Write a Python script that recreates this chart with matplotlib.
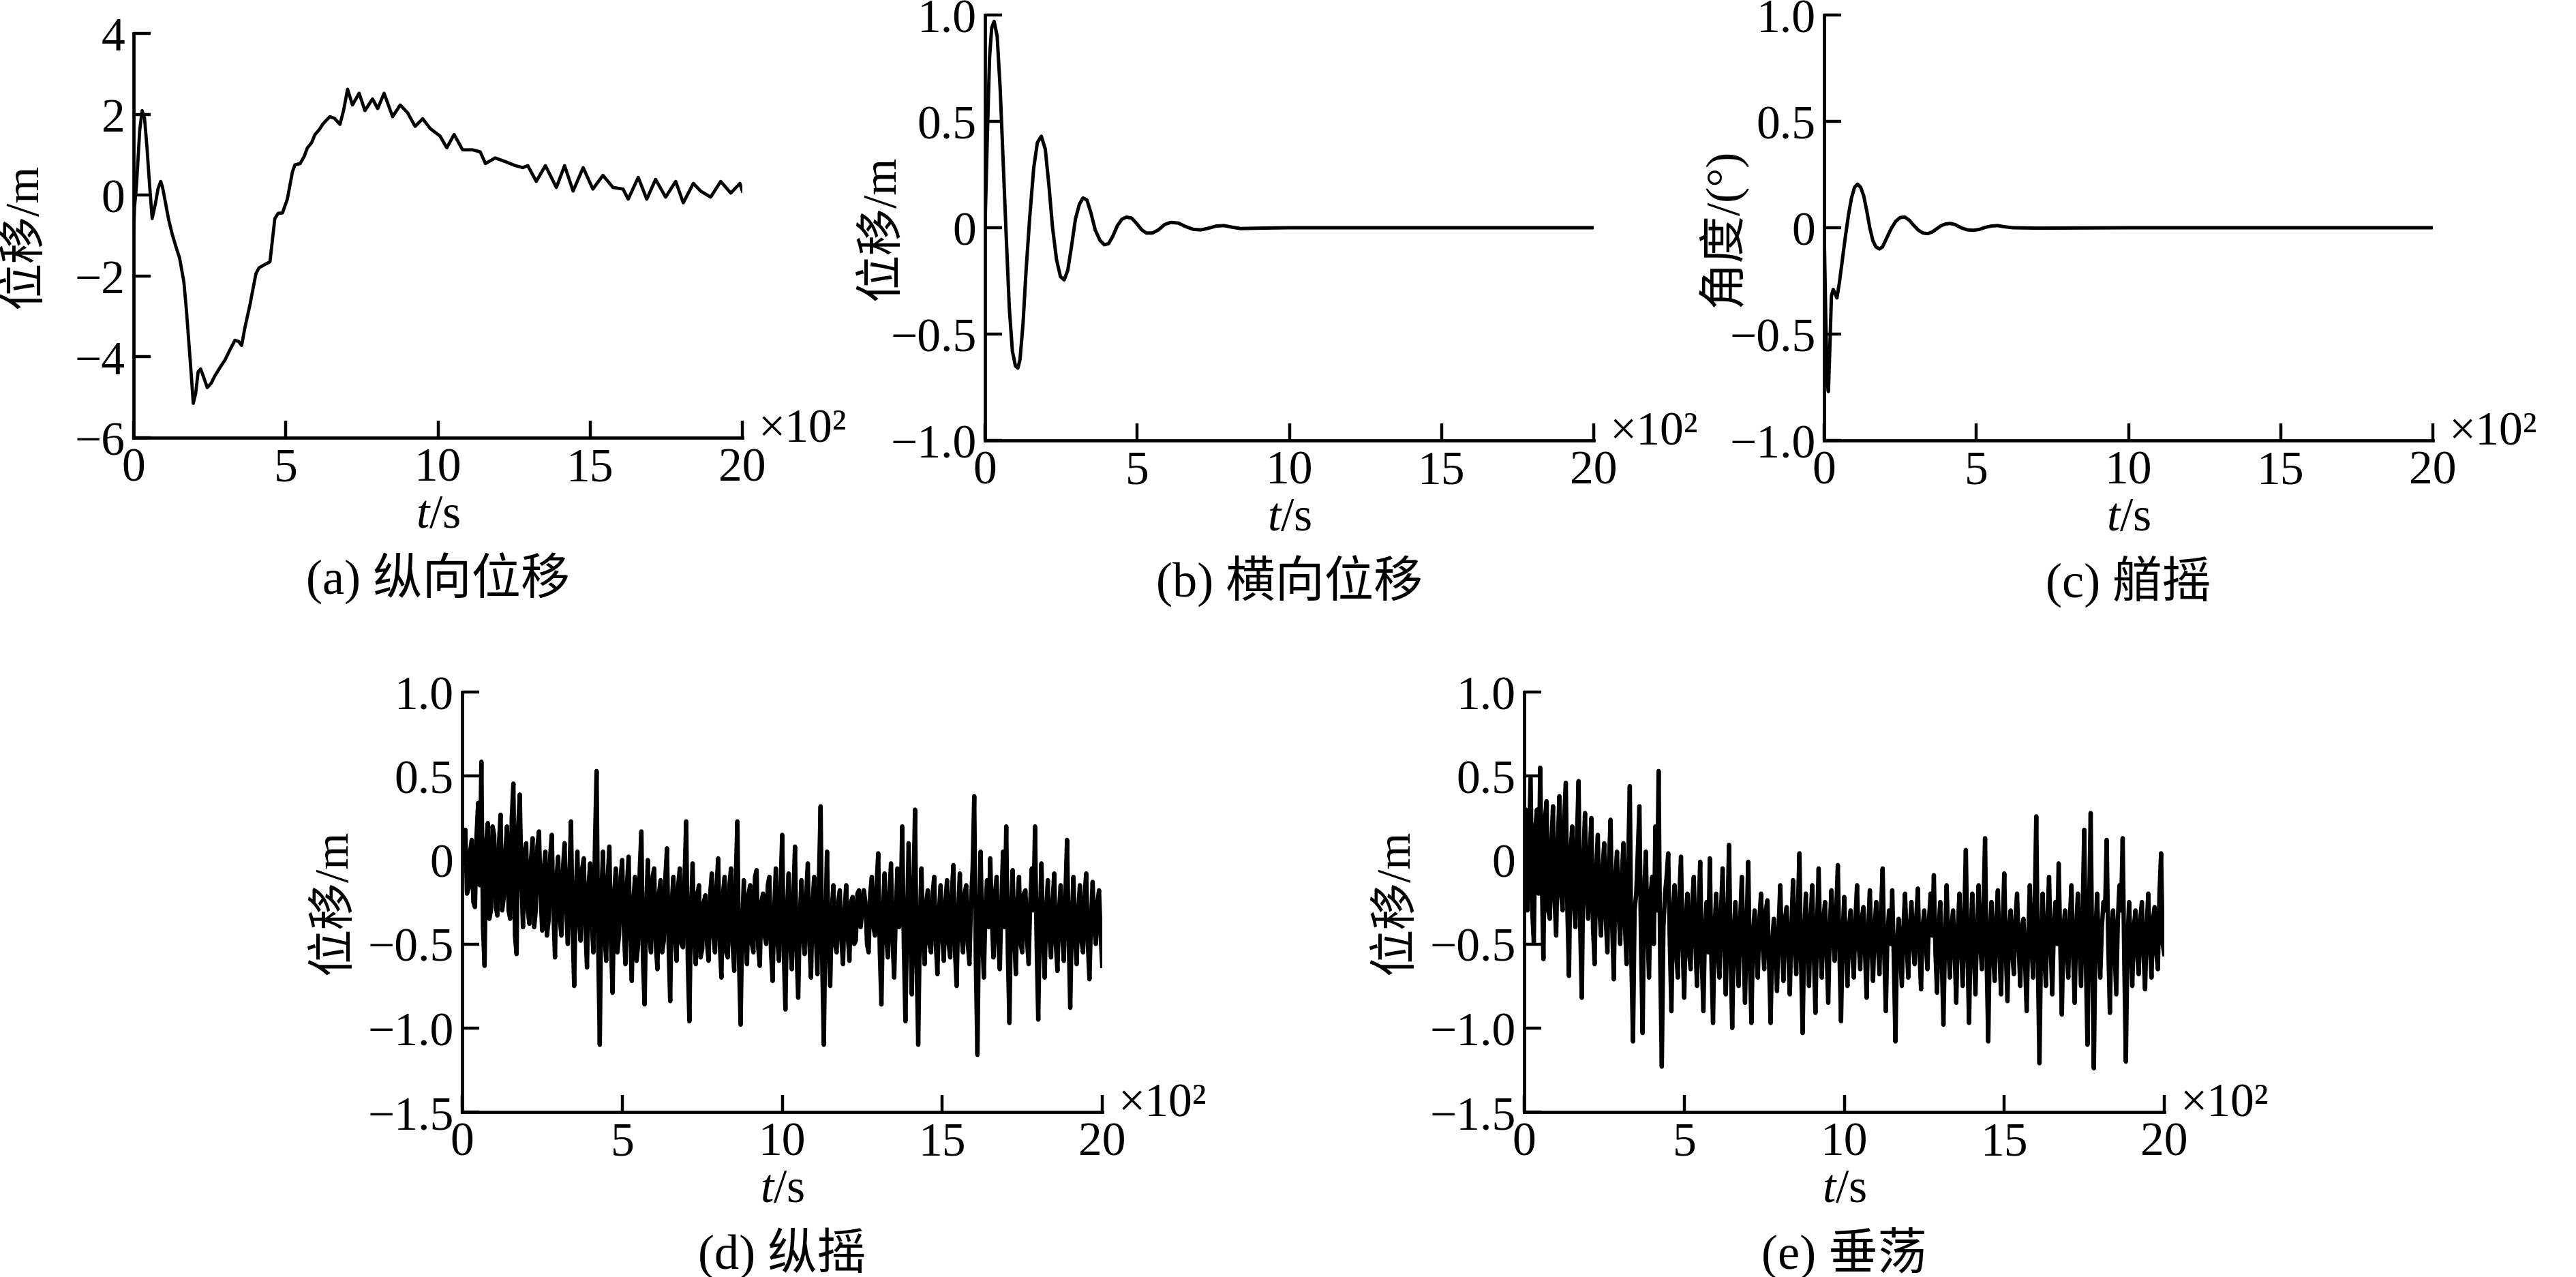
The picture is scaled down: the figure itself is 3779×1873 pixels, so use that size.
import numpy as np
import matplotlib.pyplot as plt

plt.rcParams['font.family'] = ['Liberation Serif', 'Noto Sans CJK SC']
plt.rcParams['mathtext.fontset'] = 'custom'
plt.rcParams['mathtext.rm'] = 'Liberation Serif'
plt.rcParams['mathtext.it'] = 'Liberation Serif:italic'
plt.rcParams['font.size'] = 50

# (a) longitudinal displacement, t in 1e2 s
a_t = [0.00, 0.03, 0.10, 0.20, 0.28, 0.36, 0.44, 0.53, 0.61, 0.72,
       0.80, 0.89, 0.95, 1.05, 1.15, 1.27, 1.40, 1.51, 1.65, 1.73,
       1.81, 1.90, 1.96, 2.04, 2.12, 2.20, 2.30, 2.42, 2.55, 2.67,
       2.85, 3.00, 3.15, 3.33, 3.45, 3.55, 3.65, 3.82, 4.02, 4.12,
       4.23, 4.35, 4.48, 4.64, 4.75, 4.89, 5.05, 5.22, 5.30, 5.47,
       5.60, 5.71, 5.85, 5.96, 6.10, 6.21, 6.33, 6.45, 6.60, 6.78,
       6.90, 7.03, 7.19, 7.41, 7.60, 7.85, 8.02, 8.23, 8.51, 8.76,
       9.00, 9.25, 9.50, 9.74, 10.07, 10.29, 10.53, 10.81, 11.14, 11.39,
       11.56, 11.88, 12.21, 12.54, 12.79, 12.95, 13.23, 13.53, 13.89, 14.16,
       14.44, 14.77, 15.09, 15.42, 15.75, 16.08, 16.25, 16.58, 16.86, 17.15,
       17.48, 17.81, 18.06, 18.39, 18.63, 18.96, 19.29, 19.62, 19.92, 20.00]
a_y = [-0.97, -0.30, 0.30, 1.60, 2.09, 1.90, 1.17, 0.20, -0.58, -0.20,
       0.15, 0.34, 0.20, -0.20, -0.60, -0.97, -1.30, -1.55, -2.14, -2.80,
       -3.59, -4.50, -5.15, -4.90, -4.37, -4.30, -4.50, -4.76, -4.65, -4.47,
       -4.25, -4.08, -3.85, -3.59, -3.62, -3.72, -3.30, -2.72, -1.94, -1.80,
       -1.75, -1.70, -1.65, -0.58, -0.45, -0.44, -0.10, 0.58, 0.75, 0.78,
       0.95, 1.17, 1.30, 1.50, 1.62, 1.75, 1.85, 1.94, 1.90, 1.75,
       2.10, 2.62, 2.23, 2.52, 2.09, 2.38, 2.14, 2.52, 1.94, 2.23,
       2.04, 1.70, 1.89, 1.65, 1.46, 1.17, 1.50, 1.12, 1.12, 1.07,
       0.78, 0.92, 0.83, 0.73, 0.68, 0.73, 0.34, 0.73, 0.19, 0.73,
       0.10, 0.68, 0.15, 0.49, 0.19, 0.15, -0.10, 0.44, -0.10, 0.39,
       -0.05, 0.34, -0.19, 0.29, 0.10, -0.05, 0.34, 0.05, 0.29, 0.10]

# (b) lateral displacement
b_t = [0.00, 0.08, 0.15, 0.22, 0.30, 0.40, 0.50, 0.60, 0.70, 0.80,
       0.90, 1.00, 1.08, 1.15, 1.25, 1.35, 1.47, 1.60, 1.72, 1.85,
       1.98, 2.10, 2.22, 2.35, 2.48, 2.60, 2.72, 2.85, 2.97, 3.10,
       3.22, 3.35, 3.48, 3.62, 3.78, 3.92, 4.06, 4.20, 4.35, 4.50,
       4.65, 4.82, 4.98, 5.15, 5.30, 5.50, 5.70, 5.90, 6.10, 6.35,
       6.60, 6.85, 7.10, 7.35, 7.60, 7.85, 8.10, 8.40, 9.00, 10.0,
       15.0, 20.0]
b_y = [0.00, 0.45, 0.80, 0.94, 0.97, 0.90, 0.65, 0.30, -0.05, -0.38,
       -0.58, -0.65, -0.66, -0.62, -0.45, -0.20, 0.05, 0.28, 0.40, 0.43,
       0.37, 0.20, 0.00, -0.15, -0.23, -0.245, -0.20, -0.08, 0.04, 0.11,
       0.14, 0.13, 0.07, -0.01, -0.06, -0.08, -0.075, -0.04, 0.01, 0.04,
       0.05, 0.045, 0.02, -0.01, -0.025, -0.025, -0.01, 0.015, 0.025, 0.022,
       0.005, -0.008, -0.01, -0.002, 0.008, 0.01, 0.003, -0.004, -0.002, 0.0,
       0.0, 0.0]

# (c) yaw angle
c_t = [0.00, 0.05, 0.10, 0.14, 0.18, 0.24, 0.30, 0.36, 0.42, 0.50,
       0.60, 0.70, 0.80, 0.90, 1.00, 1.10, 1.20, 1.30, 1.40, 1.50,
       1.60, 1.70, 1.82, 1.92, 2.05, 2.20, 2.35, 2.50, 2.65, 2.80,
       2.95, 3.10, 3.25, 3.40, 3.55, 3.70, 3.85, 4.00, 4.15, 4.30,
       4.50, 4.70, 4.90, 5.10, 5.30, 5.50, 5.70, 5.90, 6.20, 7.00,
       10.0, 20.0]
c_y = [0.00, -0.40, -0.72, -0.77, -0.60, -0.32, -0.29, -0.31, -0.33, -0.26,
       -0.15, -0.04, 0.06, 0.14, 0.19, 0.205, 0.19, 0.15, 0.08, 0.00,
       -0.06, -0.09, -0.10, -0.09, -0.05, -0.005, 0.03, 0.048, 0.05, 0.035,
       0.01, -0.012, -0.025, -0.028, -0.02, -0.005, 0.01, 0.018, 0.02, 0.015,
       0.00, -0.01, -0.012, -0.008, 0.002, 0.008, 0.01, 0.005, 0.0, -0.002,
       0.0, 0.0]

# (d) pitch and (e) heave, one row per 1e2 s, sampled every 0.05
d_y = [-0.02, 0.10, 0.18, -0.20, -0.17, 0.05, 0.12, -0.25, -0.28, 0.15, 0.34, -0.15, 0.585, -0.40, -0.63, 0.10, 0.22, -0.35, -0.30, 0.20,
       0.15, -0.28, -0.33, 0.10, 0.27, -0.30, -0.22, 0.05, 0.20, -0.30, -0.35, 0.25, 0.455, -0.45, -0.56, 0.20, 0.39, -0.10, -0.40, 0.05,
       0.10, -0.30, -0.38, 0.00, 0.13, -0.40, -0.30, 0.08, 0.17, -0.20, -0.42, -0.05, 0.05, -0.45, -0.36, 0.02, 0.15, -0.30, -0.58, -0.10,
       0.02, -0.35, -0.45, -0.05, 0.10, -0.30, -0.50, -0.10, 0.23, -0.40, -0.75, -0.20, 0.05, -0.35, -0.48, -0.05, 0.01, -0.40, -0.64, -0.15,
       -0.02, -0.38, -0.55, 0.10, 0.53, -0.50, -1.10, -0.20, 0.05, -0.45, -0.60, -0.10, 0.08, -0.50, -0.79, -0.20, -0.05, -0.55, -0.45, -0.10,
       0.00, -0.40, -0.62, -0.15, 0.02, -0.45, -0.72, -0.25, -0.10, -0.60, -0.50, -0.05, 0.17, -0.60, -0.86, -0.30, 0.00, -0.45, -0.55, -0.10,
       -0.05, -0.50, -0.65, -0.20, -0.12, -0.55, -0.48, -0.10, 0.07, -0.50, -0.84, -0.25, -0.10, -0.45, -0.60, -0.15, -0.05, -0.50, -0.52, -0.10,
       0.23, -0.60, -0.96, -0.30, -0.02, -0.45, -0.62, -0.20, -0.15, -0.58, -0.53, -0.25, -0.21, -0.50, -0.60, -0.20, -0.08, -0.45, -0.55, -0.15,
       0.01, -0.50, -0.70, -0.20, -0.10, -0.55, -0.58, -0.15, -0.05, -0.50, -0.66, -0.10, 0.23, -0.60, -0.98, -0.40, -0.12, -0.48, -0.62, -0.20,
       -0.15, -0.50, -0.55, -0.10, -0.06, -0.52, -0.63, -0.25, -0.20, -0.45, -0.50, -0.15, -0.10, -0.55, -0.72, -0.30, -0.05, -0.48, -0.60, -0.15,
       0.15, -0.55, -0.89, -0.30, -0.08, -0.50, -0.65, -0.20, 0.08, -0.55, -0.82, -0.35, -0.12, -0.45, -0.56, -0.20, -0.02, -0.50, -0.70, -0.25,
       -0.10, -0.45, -0.68, -0.10, 0.32, -0.60, -1.10, -0.40, 0.05, -0.50, -0.75, -0.30, -0.15, -0.50, -0.55, -0.25, -0.18, -0.48, -0.62, -0.30,
       -0.15, -0.45, -0.60, -0.25, -0.22, -0.50, -0.48, -0.20, -0.18, -0.40, -0.30, -0.18, -0.25, -0.50, -0.55, -0.20, -0.10, -0.40, -0.45, -0.15,
       0.04, -0.55, -0.86, -0.30, -0.08, -0.45, -0.58, -0.20, -0.02, -0.50, -0.70, -0.30, -0.05, -0.40, -0.30, 0.20, -0.50, -0.96, -0.40, 0.10,
       -0.35, -0.80, -0.20, 0.30, -0.60, -1.10, -0.40, -0.05, -0.45, -0.62, -0.25, -0.18, -0.50, -0.55, -0.20, -0.10, -0.50, -0.68, -0.30, -0.15,
       -0.45, -0.60, -0.25, -0.12, -0.50, -0.58, -0.20, -0.03, -0.55, -0.75, -0.30, -0.08, -0.45, -0.55, -0.20, -0.15, -0.50, -0.62, -0.25, -0.05,
       0.38, -0.60, -1.16, -0.35, 0.05, -0.45, -0.70, -0.30, -0.12, -0.40, 0.01, -0.35, -0.58, -0.20, -0.10, -0.50, -0.65, -0.25, 0.05, -0.40,
       0.20, -0.55, -0.97, -0.30, -0.06, -0.45, -0.68, -0.25, -0.10, -0.50, -0.55, -0.20, -0.18, -0.48, -0.62, -0.25, -0.05, -0.30, 0.20, -0.50,
       -0.95, -0.35, -0.02, -0.45, -0.70, -0.30, -0.12, -0.45, -0.58, -0.25, -0.08, -0.50, -0.66, -0.30, -0.15, -0.45, -0.60, -0.20, 0.12, -0.45,
       -0.88, -0.35, -0.10, -0.45, -0.62, -0.30, -0.15, -0.48, -0.55, -0.20, -0.08, -0.50, -0.71, -0.35, -0.13, -0.40, -0.50, -0.25, -0.18, -0.45,
       -0.63]
e_y = [0.00, 0.30, -0.30, 0.10, 0.49, -0.30, -0.49, 0.20, 0.30, -0.20, 0.55, -0.10, -0.59, 0.25, 0.35, -0.30, -0.35, 0.10, 0.32, -0.25,
       -0.45, 0.10, 0.38, -0.20, -0.30, 0.25, 0.46, -0.30, -0.69, 0.05, 0.20, -0.25, -0.40, 0.15, 0.47, -0.40, -0.82, 0.00, 0.28, -0.20,
       -0.35, 0.05, 0.25, -0.40, -0.62, -0.05, 0.15, -0.30, -0.45, -0.05, 0.10, -0.35, -0.55, 0.00, 0.24, -0.40, -0.71, -0.10, 0.05, -0.30,
       -0.50, -0.10, 0.10, -0.40, -0.62, 0.00, 0.44, -0.60, -1.08, -0.30, -0.20, 0.05, 0.32, -0.50, -1.03, -0.20, 0.05, -0.40, -0.70, -0.20,
       -0.10, -0.50, 0.20, -0.30, 0.53, -0.60, -1.23, -0.40, -0.20, -0.10, 0.04, -0.50, -0.90, -0.30, -0.15, -0.55, -0.70, -0.20, 0.02, -0.50,
       -0.82, -0.35, -0.20, -0.55, -0.65, -0.25, -0.10, -0.50, -0.75, -0.30, -0.01, -0.60, -0.90, -0.40, -0.25, -0.55, 0.01, -0.60, -0.97, -0.40,
       -0.20, -0.55, -0.70, -0.30, -0.05, -0.50, -0.80, -0.35, 0.09, -0.55, -1.00, -0.45, -0.25, -0.55, -0.75, -0.35, -0.10, -0.50, -0.85, -0.40,
       -0.01, -0.60, -0.97, -0.45, -0.30, -0.55, -0.70, -0.35, -0.20, -0.50, -0.65, -0.30, -0.24, -0.60, -0.97, -0.50, -0.35, -0.55, -0.78, -0.40,
       -0.15, -0.50, -0.72, -0.35, -0.28, -0.55, -0.80, -0.40, -0.12, -0.50, -0.68, -0.30, 0.04, -0.60, -1.03, -0.45, -0.20, -0.50, -0.75, -0.35,
       -0.15, -0.55, -0.91, -0.40, -0.05, -0.50, -0.70, -0.35, -0.25, -0.55, -0.85, -0.40, -0.18, -0.45, -0.60, -0.30, -0.03, -0.55, -0.96, -0.45,
       -0.22, -0.50, -0.75, -0.40, -0.30, -0.55, -0.70, -0.35, -0.15, -0.50, -0.65, -0.35, -0.28, -0.55, -0.82, -0.40, -0.18, -0.50, -0.72, -0.40,
       -0.25, -0.50, -0.68, -0.30, -0.05, -0.55, -0.90, -0.45, -0.30, -0.50, -0.18, -0.60, -1.08, -0.50, -0.35, -0.55, -0.75, -0.40, -0.20, -0.50,
       -0.70, -0.40, -0.25, -0.50, -0.62, -0.35, -0.17, -0.55, -0.77, -0.40, -0.30, -0.50, -0.65, -0.35, -0.20, -0.45, -0.09, -0.55, -0.79, -0.40,
       -0.25, -0.60, -0.98, -0.45, -0.15, -0.50, -0.70, -0.40, -0.30, -0.55, -0.85, -0.40, -0.20, -0.50, -0.75, -0.35, 0.06, -0.55, -0.97, -0.45,
       -0.20, -0.55, -0.80, -0.40, -0.15, -0.50, -0.65, -0.30, 0.13, -0.60, -1.08, -0.45, -0.25, -0.55, -0.72, -0.35, -0.18, -0.55, -0.80, -0.40,
       -0.08, -0.55, -0.84, -0.40, -0.30, -0.55, -0.68, -0.35, -0.20, -0.50, -0.75, -0.40, -0.35, -0.60, -0.90, -0.45, -0.15, -0.50, -0.70, -0.30,
       0.26, -0.60, -1.21, -0.50, -0.20, -0.55, -0.75, -0.35, -0.10, -0.50, -0.80, -0.40, -0.25, -0.50, -0.02, -0.50, -0.92, -0.40, -0.30, -0.55,
       -0.70, -0.35, -0.15, -0.55, -0.85, -0.40, -0.20, -0.50, -0.75, -0.30, 0.18, -0.60, -1.10, -0.30, 0.28, -0.60, -1.24, -0.45, -0.20, -0.50,
       -0.70, -0.40, -0.25, -0.30, 0.12, -0.50, -0.91, -0.40, -0.30, -0.55, -0.80, -0.35, -0.15, -0.30, 0.13, -0.60, -1.20, -0.50, -0.25, -0.50,
       -0.75, -0.40, -0.30, -0.55, -0.68, -0.35, -0.25, -0.55, -0.77, -0.40, -0.20, -0.50, -0.70, -0.35, -0.28, -0.55, -0.65, -0.20, 0.04, -0.50,
       -0.56]
d_t = np.linspace(0, 20, len(d_y))
e_t = np.linspace(0, 20, len(e_y))

x_ticks = [0, 5, 10, 15, 20]
a_yticks = [-6, -4, -2, 0, 2, 4]
a_ylabels = ['−6', '−4', '−2', '0', '2', '4']
bc_yticks = [-1.0, -0.5, 0, 0.5, 1.0]
bc_ylabels = ['−1.0', '−0.5', '0', '0.5', '1.0']
de_yticks = [-1.5, -1.0, -0.5, 0, 0.5, 1.0]
de_ylabels = ['−1.5', '−1.0', '−0.5', '0', '0.5', '1.0']

W, H = 3779, 1874
fig = plt.figure(figsize=(W / 100, H / 100), dpi=100)


def make_ax(left, top, right, bottom):
    return fig.add_axes([left / W, 1 - bottom / H, (right - left) / W, (bottom - top) / H])


def style(ax, ylim, yticks, ylabels, ylabel, caption, ylab_x):
    ax.set_xlim(0, 20)
    ax.set_ylim(*ylim)
    ax.set_xticks(x_ticks)
    ax.set_xticklabels([str(v) for v in x_ticks])
    ax.set_yticks(yticks)
    ax.set_yticklabels(ylabels)
    ax.spines['top'].set_visible(False)
    ax.spines['right'].set_visible(False)
    ax.spines['left'].set_linewidth(3.4)
    ax.spines['bottom'].set_linewidth(3.4)
    ax.tick_params(direction='in', length=18, width=3.2, labelsize=50)
    ax.tick_params(axis='x', pad=10)
    ax.tick_params(axis='y', pad=9)
    ax.set_xlabel('$t$/s', labelpad=4)
    ax.set_ylabel(ylabel, va='center')
    ax.yaxis.set_label_coords(ylab_x, 0.5)
    ax.annotate('×10²', xy=(1, 0), xycoords='axes fraction', xytext=(17, -4),
                textcoords='offset points', ha='left', va='baseline', fontsize=50)
    ax.annotate(caption, xy=(0.5, 0), xycoords='axes fraction', xytext=(0, -148),
                textcoords='offset points', ha='center', va='center', fontsize=52)


ax_a = make_ax(196, 50, 1089, 643)
ax_a.plot(a_t, a_y, color='black', lw=3.4)
style(ax_a, (-6, 4), a_yticks, a_ylabels, '位移/m', '(a) 纵向位移', -0.179)

ax_b = make_ax(1445, 23, 2338, 647)
ax_b.plot(b_t, b_y, color='black', lw=3.6)
style(ax_b, (-1, 1), bc_yticks, bc_ylabels, '位移/m', '(b) 横向位移', -0.168)

ax_c = make_ax(2676, 23, 3569, 647)
ax_c.plot(c_t, c_y, color='black', lw=3.6)
style(ax_c, (-1, 1), bc_yticks, bc_ylabels, '角度/(°)', '(c) 艏摇', -0.168)

ax_d = make_ax(678, 1016, 1617, 1632)
ax_d.plot(d_t, d_y, color='black', lw=4.6)
style(ax_d, (-1.5, 1), de_yticks, de_ylabels, '位移/m', '(d) 纵摇', -0.2)

ax_e = make_ax(2236, 1016, 3175, 1632)
ax_e.plot(e_t, e_y, color='black', lw=4.6)
style(ax_e, (-1.5, 1), de_yticks, de_ylabels, '位移/m', '(e) 垂荡', -0.2)

fig.savefig('out.png', dpi=100)
